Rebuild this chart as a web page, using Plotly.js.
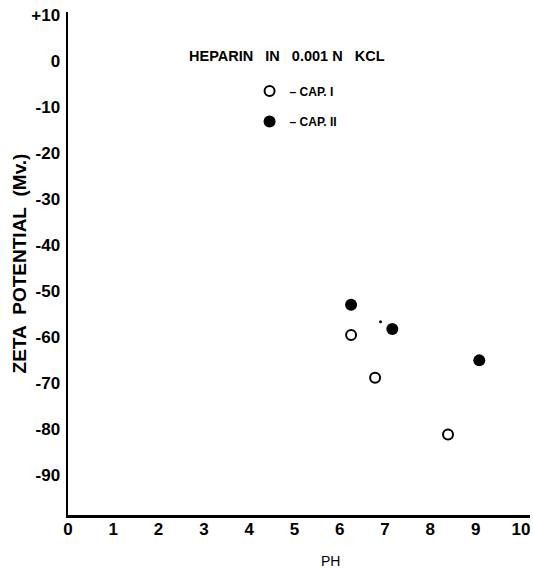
<!DOCTYPE html>
<html>
<head>
<meta charset="utf-8">
<script src="https://cdn.plot.ly/plotly-3.0.1.min.js"></script>
<style>html,body{margin:0;padding:0;background:#fff;}#chart{width:533px;height:569px;}</style>
</head>
<body>
<div id="chart"></div>
<script>
// Data
const cap1_pH = [6.25, 6.78, 8.39];
const cap1_zeta = [-59.6, -68.9, -81.2];
const cap2_pH = [6.25, 7.16, 9.08];
const cap2_zeta = [-53.0, -58.3, -65.1];
const speck_pH = [6.9];
const speck_zeta = [-56.7];
const xTicks = [0,1,2,3,4,5,6,7,8,9,10];
const xTickText = ['0','1','2','3','4','5','6','7','8','9','10'];
const yTicks = [10,0,-10,-20,-30,-40,-50,-60,-70,-80,-90];
const yTickText = ['+10','0','-10','-20','-30','-40','-50','-60','-70','-80','-90'];

const F = 'Liberation Sans, Arial, sans-serif';

const traces = [
  {x: cap1_pH, y: cap1_zeta, mode: 'markers', name: '– CAP. I', legend: 'legend',
   marker: {symbol: 'circle-open', size: 10, color: '#000', line: {width: 2, color: '#000'}}},
  {x: cap2_pH, y: cap2_zeta, mode: 'markers', name: '– CAP. II', legend: 'legend2',
   marker: {symbol: 'circle', size: 12, color: '#000'}},
  {x: speck_pH, y: speck_zeta, mode: 'markers', showlegend: false, hoverinfo: 'skip',
   marker: {symbol: 'circle', size: 3, color: '#000'}}
];

const legFont = {family: F, size: 12, color: '#000', weight: 'bold'};
const layout = {
  width: 533, height: 569,
  margin: {l: 68, r: 3, t: 12, b: 54},
  paper_bgcolor: '#fff', plot_bgcolor: '#fff',
  showlegend: true,
  legend: {x: 0.393, y: 0.872, xanchor: 'left', yanchor: 'top', bgcolor: 'rgba(0,0,0,0)',
           font: legFont, itemwidth: 30},
  legend2: {x: 0.393, y: 0.811, xanchor: 'left', yanchor: 'top', bgcolor: 'rgba(0,0,0,0)',
           font: legFont, itemwidth: 30},
  xaxis: {range: [0, 10.2], tickvals: xTicks, ticktext: xTickText, showgrid: false, zeroline: false,
          showline: true, linewidth: 2.5, linecolor: '#000', ticks: '', ticklabelstandoff: -3,
          tickfont: {family: F, size: 17, color: '#000', weight: 'bold'}},
  yaxis: {range: [-98.7, 10.6], tickvals: yTicks, ticktext: yTickText, showgrid: false, zeroline: false,
          showline: true, linewidth: 2.5, linecolor: '#000', ticks: '', ticklabelstandoff: 2,
          tickfont: {family: F, size: 17, color: '#000', weight: 'bold'},
          title: {text: 'ZETA\u00a0 POTENTIAL\u00a0 (Mv.)', standoff: 0,
                  font: {family: F, size: 19, color: '#000', weight: 'bold'}}},
  annotations: [
    {text: 'HEPARIN\u00a0\u00a0 IN\u00a0\u00a0 0.001 N\u00a0\u00a0 KCL', xref: 'paper', yref: 'paper',
     x: (287 - 68) / 462, y: (515 - 64) / 494, xanchor: 'center', yanchor: 'middle', showarrow: false,
     font: {family: F, size: 14.5, color: '#000', weight: 'bold'}},
    {text: 'PH', xref: 'paper', yref: 'paper', x: (330 - 68) / 462, y: (515 - 560) / 494,
     xanchor: 'center', yanchor: 'middle', showarrow: false,
     font: {family: F, size: 14, color: '#000'}}
  ]
};

Plotly.newPlot('chart', traces, layout, {displayModeBar: false, staticPlot: true});
</script>
</body>
</html>
